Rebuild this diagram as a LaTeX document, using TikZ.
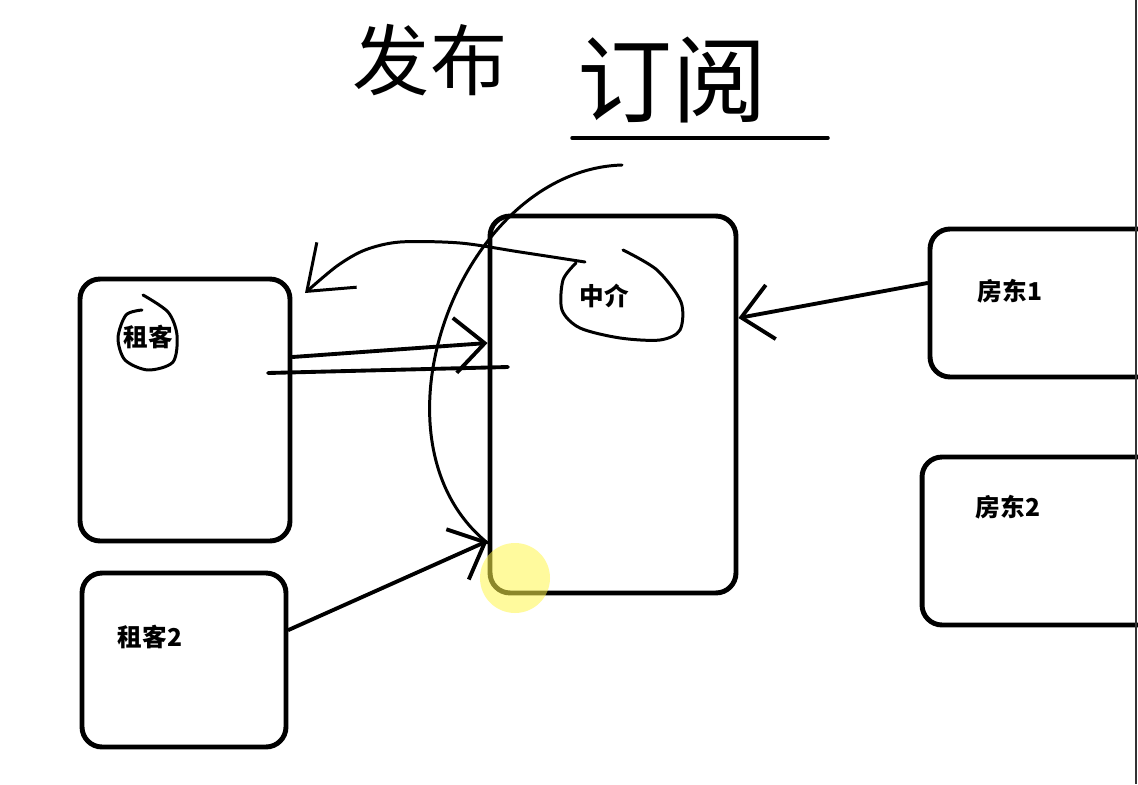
\documentclass[tikz,border=0pt]{standalone}
\usepackage{fontspec}
\newfontfamily\cjk{Noto Sans CJK SC}
\usetikzlibrary{arrows.meta}
\begin{document}
\begin{tikzpicture}[x=0.02cm,y=-0.02cm,
    box/.style={draw,line width=2.8pt,rounded corners=0.4cm,inner sep=0pt},
    lbl/.style={font=\cjk\bfseries\fontsize{14}{14}\selectfont},
    pen/.style={line width=1.7pt,line cap=round,line join=round},
    arr/.style={line width=2.2pt,line cap=round,-{Straight Barb[length=0.6cm,width=1.1cm]}}]
	\clip (0,0) rectangle (1138,784);
	\fill[white] (0,0) rectangle (1138,784);
	% Title
	\node[font=\cjk\fontsize{44}{44}\selectfont] (fabu) at (430,60) {发布};
	\node[font=\cjk\fontsize{54}{54}\selectfont] (dingyue) at (672,80) {订阅};
	\draw[pen,line width=2pt] (572,138) -- (828,138);
	% Boxes
	\node[box,minimum width=4.2cm,minimum height=5.24cm] (zuke) at (185,410) {};
	\node[box,minimum width=4.08cm,minimum height=3.48cm] (zuke2) at (184,660) {};
	\node[box,minimum width=4.92cm,minimum height=7.54cm] (zhongjie) at (613,404.5) {};
	\node[box,minimum width=4.6cm,minimum height=2.96cm] (fangdong1) at (1045,303) {};
	\node[box,minimum width=4.76cm,minimum height=3.36cm] (fangdong2) at (1041,541) {};
	% Names
	\node[lbl] (zukeL) at (148,337) {租客};
	\node[lbl] (zuke2L) at (150,637) {租客2};
	\node[lbl] (zhongjieL) at (604,296) {中介};
	\node[lbl] (fangdong1L) at (1010,291) {房东1};
	\node[lbl] (fangdong2L) at (1008,507) {房东2};
	% Circles round the names
	\draw[pen] plot[smooth] coordinates {(143,295) (168,312) (177,335) (173,362) (148,370) (125,360) (118,338) (126,315) (142,310)};
	\draw[pen] plot[smooth] coordinates {(623,250) (657,270) (681,302) (680,330) (660,340) (620,338) (580,328) (562,310) (563,280) (576,263)};
	% Arrows
	\coordinate (back) at (585,262);
	\coordinate (top) at (622,165);
	\coordinate (s1) at (268,373);
	\coordinate (s2) at (508,367);
	\draw[arr] (zuke.east |- 0,357) -- (zhongjie.west |- 0,343);
	\draw[pen,line width=2.2pt] (s1) -- (s2);
	\draw[arr] (fangdong1.west |- 0,283) -- (zhongjie.east |- 0,318);
	\draw[arr] (zuke2.east |- 0,630) -- (zhongjie.west |- 0,541);
	\draw[pen] (top) .. controls (460,170) and (360,440) .. (zhongjie.west |- 0,543);
	\draw[pen,-{Straight Barb[length=0.8cm,width=1.2cm]}] plot[smooth] coordinates {(back) (520,252) (460,243) (400,242) (365,250) (337,266) (305,293)};
	% Screen edge and cursor
	\draw[line width=1.2pt,black!80] (1136,0) -- (1136,784);
	\fill[yellow!70!white,opacity=0.55] (515,578) circle (0.7cm);
\end{tikzpicture}
\end{document}
